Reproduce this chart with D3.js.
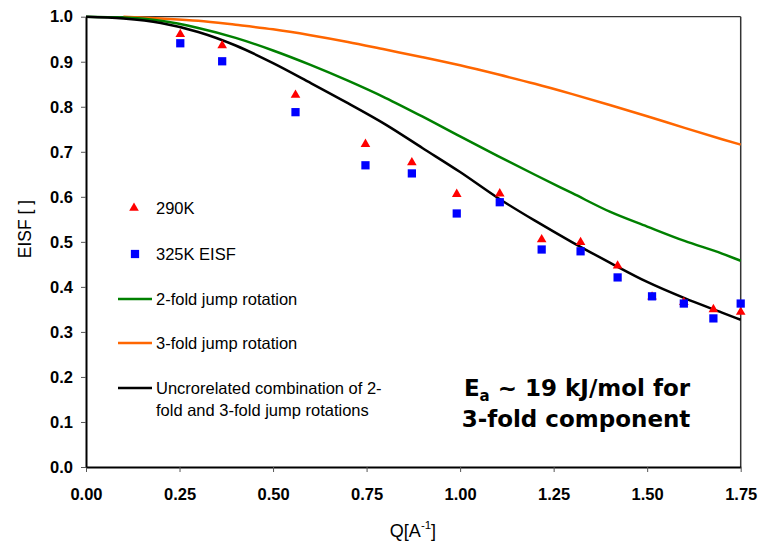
<!DOCTYPE html>
<html>
<head>
<meta charset="utf-8">
<script src="https://cdn.jsdelivr.net/npm/d3@7"></script>
<style>
  html, body { margin: 0; padding: 0; background: #fff; }
  svg { display: block; font-family: "Liberation Sans", Arial, sans-serif; }
</style>
</head>
<body>
<svg id="chart" width="759" height="547"></svg>
<script>
// Measured EISF points
const qPoints   = [0.252, 0.364, 0.560, 0.747, 0.871, 0.991, 1.106, 1.218, 1.322, 1.421, 1.513, 1.598, 1.677, 1.750];
const eisf290K  = [0.961, 0.936, 0.826, 0.717, 0.676, 0.606, 0.607, 0.505, 0.499, 0.447, 0.378, 0.366, 0.350, 0.344];
const eisf325K  = [0.941, 0.901, 0.788, 0.670, 0.652, 0.563, 0.588, 0.483, 0.479, 0.421, 0.379, 0.363, 0.330, 0.363];

// Model curves
const qModel      = [0, 0.1, 0.2, 0.3, 0.4, 0.5, 0.6, 0.7, 0.8, 0.9, 1.0, 1.1, 1.2, 1.3, 1.4, 1.5, 1.6, 1.7, 1.75];
const twoFold     = [1.000, 0.998, 0.991, 0.975, 0.953, 0.925, 0.893, 0.858, 0.820, 0.778, 0.734, 0.691, 0.649, 0.608, 0.567, 0.534, 0.502, 0.474, 0.458];
const threeFold   = [null, 1.000, 0.996, 0.991, 0.982, 0.972, 0.959, 0.944, 0.927, 0.910, 0.892, 0.872, 0.851, 0.828, 0.804, 0.779, 0.753, 0.728, 0.716];
const combination = [1.000, 0.996, 0.986, 0.966, 0.936, 0.897, 0.853, 0.808, 0.761, 0.708, 0.655, 0.598, 0.547, 0.499, 0.454, 0.411, 0.375, 0.343, 0.327];

// Axis ticks
const xTicks = [0, 0.25, 0.5, 0.75, 1.0, 1.25, 1.5, 1.75];
const yTicks = [0, 0.1, 0.2, 0.3, 0.4, 0.5, 0.6, 0.7, 0.8, 0.9, 1.0];

const svg = d3.select("#chart");
const plotLeft = 86, plotRight = 740.7, plotTop = 16.7, plotBottom = 467;

const x = d3.scaleLinear().domain([0, 1.75]).range([plotLeft, plotRight]);
const y = d3.scaleLinear().domain([0, 1]).range([plotBottom, plotTop]);

// Frame: thin top and right edges
svg.append("line").attr("x1", plotLeft).attr("x2", plotRight).attr("y1", plotTop).attr("y2", plotTop)
  .attr("stroke", "#333").attr("stroke-width", 1.2);
svg.append("line").attr("x1", plotRight).attr("x2", plotRight).attr("y1", plotTop).attr("y2", plotBottom)
  .attr("stroke", "#333").attr("stroke-width", 1.5);

// Axes
const xAxis = d3.axisBottom(x).tickValues(xTicks).tickFormat(d3.format(".2f")).tickSize(5).tickSizeOuter(0);
const yAxis = d3.axisLeft(y).tickValues(yTicks).tickFormat(d3.format(".1f")).tickSize(5).tickSizeOuter(0);

const gx = svg.append("g").attr("transform", `translate(0,${plotBottom})`).call(xAxis);
const gy = svg.append("g").attr("transform", `translate(${plotLeft},0)`).call(yAxis);

[gx, gy].forEach(g => {
  g.select(".domain").attr("stroke", "#000").attr("stroke-width", 2);
  g.selectAll(".tick line").attr("stroke", "#555").attr("stroke-width", 1);
  g.selectAll(".tick text")
    .attr("fill", "#000")
    .style("font-family", "'Liberation Sans', Arial, sans-serif")
    .style("font-size", "16.5px")
    .style("font-weight", "bold");
});
gx.selectAll(".tick text").attr("dy", null).attr("y", 33);
gy.selectAll(".tick text").attr("x", -13);

// Axis titles
svg.append("text")
  .attr("transform", `translate(31,229) rotate(-90)`)
  .attr("text-anchor", "middle")
  .style("font-size", "17.5px")
  .text("EISF [ ]");

const xt = svg.append("text")
  .attr("x", 413).attr("y", 537)
  .attr("text-anchor", "middle")
  .style("font-size", "18px");
xt.append("tspan").text("Q[A");
xt.append("tspan").attr("dy", -8).style("font-size", "11.5px").text("-1");
xt.append("tspan").attr("dy", 8).text("]");

// Model curves
const line = d3.line()
  .defined(d => d[1] != null)
  .x(d => x(d[0])).y(d => y(d[1]))
  .curve(d3.curveMonotoneX);

const curves = [
  { values: threeFold,   color: "#ff6600" },
  { values: twoFold,     color: "#008000" },
  { values: combination, color: "#000000" }
];
curves.forEach(c => {
  svg.append("path")
    .datum(qModel.map((q, i) => [q, c.values[i]]))
    .attr("fill", "none")
    .attr("stroke", c.color)
    .attr("stroke-width", 2.5)
    .attr("d", line);
});

// Data markers
const tri = d3.symbol().type(d3.symbolTriangle).size(40);
const sq  = d3.symbol().type(d3.symbolSquare).size(68);

svg.append("g").selectAll("path")
  .data(qPoints.map((q, i) => [q, eisf290K[i]]))
  .join("path")
  .attr("d", tri)
  .attr("fill", "#ff0000")
  .attr("transform", d => `translate(${x(d[0])},${y(d[1])})`);

svg.append("g").selectAll("path")
  .data(qPoints.map((q, i) => [q, eisf325K[i]]))
  .join("path")
  .attr("d", sq)
  .attr("fill", "#0000ff")
  .attr("transform", d => `translate(${x(d[0])},${y(d[1])})`);

// Legend
const lg = svg.append("g").style("font-size", "16.5px");
lg.append("path").attr("d", tri).attr("fill", "#ff0000").attr("transform", "translate(134,208)");
lg.append("text").attr("x", 156).attr("y", 214).text("290K");
lg.append("path").attr("d", sq).attr("fill", "#0000ff").attr("transform", "translate(135,254)");
lg.append("text").attr("x", 156).attr("y", 260).text("325K EISF");

const legendLines = [
  { y: 299, color: "#008000", lines: ["2-fold jump rotation"] },
  { y: 343, color: "#ff6600", lines: ["3-fold jump rotation"] },
  { y: 388, color: "#000000", lines: ["Uncrorelated combination of 2-", "fold and 3-fold jump rotations"] }
];
legendLines.forEach(item => {
  lg.append("line").attr("x1", 118).attr("x2", 152).attr("y1", item.y).attr("y2", item.y)
    .attr("stroke", item.color).attr("stroke-width", 2.5);
  item.lines.forEach((t, i) => {
    lg.append("text").attr("x", 156).attr("y", item.y + 6 + i * 22).text(t);
  });
});

// Activation energy note
const note = svg.append("g")
  .style("font-family", "'Comic Sans MS', 'DejaVu Sans', sans-serif")
  .style("font-weight", "bold")
  .style("font-size", "23px")
  .attr("text-anchor", "middle");
const l1 = note.append("text").attr("x", 577).attr("y", 396);
l1.append("tspan").text("E");
l1.append("tspan").attr("dy", 5).style("font-size", "15px").text("a");
l1.append("tspan").attr("dy", -5).text(" ~ 19 kJ/mol for");
note.append("text").attr("x", 576).attr("y", 427).text("3-fold component");
</script>
</body>
</html>
